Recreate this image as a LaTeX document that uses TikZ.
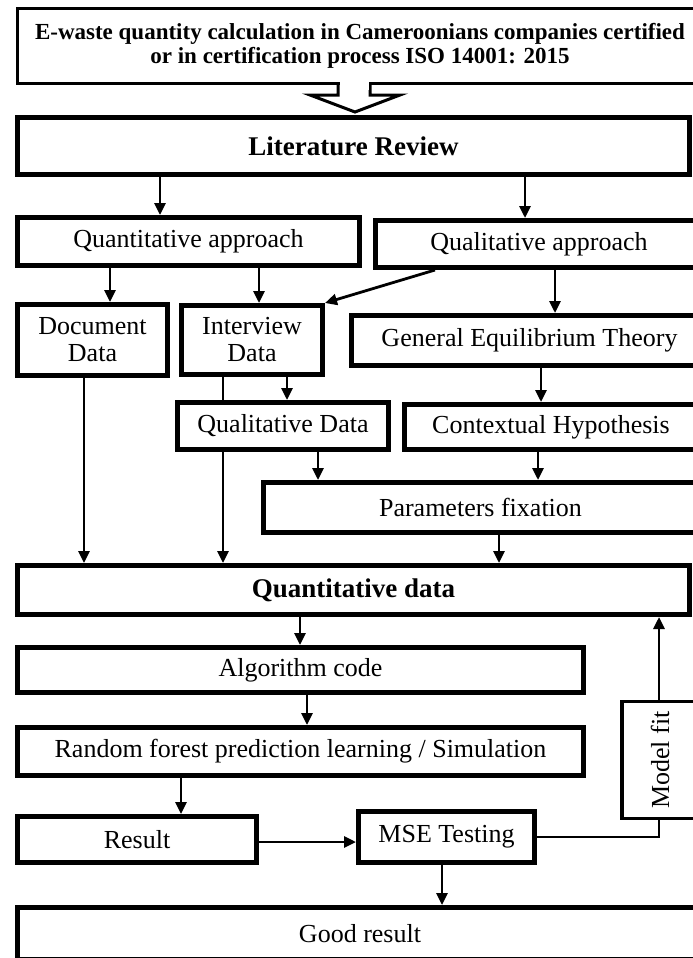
\documentclass[tikz,border=0pt]{standalone}
\usepackage{fontspec}
\setmainfont{Liberation Serif}
\usetikzlibrary{arrows.meta,calc}
\tikzset{
  box/.style={draw, line width=5pt, fill=white, inner sep=0pt, align=center,
    font=\fontsize{26}{27}\selectfont},
  arr/.style={line width=2.8pt, -{Triangle[width=11pt,length=12pt]}},
  ln/.style={line width=2.8pt},
}
\newcommand\mybox[7][]{\node[box,#1,minimum width={#5-#3-5},minimum height={#6-#4-5}] (#2) at ({(#3+#5)/2},{(#4+#6)/2}) {#7};}
\begin{document}
\begin{tikzpicture}[x=1pt,y=-1pt]
\useasboundingbox (0,0) rectangle (693,958);
\fill[white] (0,0) rectangle (693,958);
% x positions of connectors
\foreach \n/\v in {a/84,b/110,c/160,d/181,e/223,f/259,g/287,h/300,i/307,j/318,k/442,l/499,m/525,n/538,o/541,p/555,q/659}
  \coordinate (x\n) at (\v,0);
% boxes
\mybox[line width=3pt,font=\bfseries\fontsize{23}{24}\selectfont]{top}{15}{6}{705}{86}{E-waste quantity calculation in Cameroonians companies certified\\or in certification process ISO 14001: 2015}
\mybox[font=\bfseries\fontsize{27}{28}\selectfont]{lit}{15}{115}{692}{177}{Literature Review}
\mybox{quantA}{15}{215}{362}{268}{Quantitative approach}
\mybox{qualA}{373}{218}{705}{270}{Qualitative approach}
\mybox{doc}{15}{302}{170}{378}{Document\\Data}
\mybox{intv}{179}{303}{325}{377}{Interview\\Data}
\mybox{get}{349}{313}{710}{368}{General Equilibrium Theory}
\mybox{qdata}{175}{400}{391}{452}{Qualitative Data}
\mybox{ctx}{402}{402}{700}{452}{Contextual Hypothesis}
\mybox{par}{261}{480}{700}{535}{Parameters fixation}
\mybox[font=\bfseries\fontsize{27}{28}\selectfont]{qd}{15}{563}{692}{617}{Quantitative data}
\mybox{algo}{15}{645}{586}{695}{Algorithm code}
\mybox{rf}{15}{725}{586}{778}{Random forest prediction learning / Simulation}
\node[box,line width=3.5pt,rotate=90,minimum width=117pt,minimum height=76pt] (mfit) at (660,760) {Model fit};
\mybox{res}{15}{814}{259}{865}{Result}
\mybox{mse}{356}{809}{537}{865}{MSE Testing}
\mybox{good}{15}{905}{705}{962}{Good result}
% hollow arrow
\draw[line width=3pt,fill=white,line join=miter] (338,85) -- (338,95) -- (310,95) -- (355,112) -- (400,95) -- (370,95) -- (370,85);
\fill[white] (339.5,82) rectangle (368.5,90);
% connectors
\draw[arr] (lit.south -| xc) -- (quantA.north -| xc);
\draw[arr] (lit.south -| xm) -- (qualA.north -| xm);
\draw[arr] (quantA.south -| xb) -- (doc.north -| xb);
\draw[arr] (quantA.south -| xf) -- (intv.north -| xf);
\draw[arr] ($(qualA.south west)+(62,0)$) -- (intv.north east);
\draw[arr] (qualA.south -| xp) -- (get.north -| xp);
\draw[arr] (intv.south -| xg) -- (qdata.north -| xg);
\draw[ln] (intv.south -| xe) -- (qdata.north -| xe);
\draw[arr] (qdata.south -| xe) -- (qd.north -| xe);
\draw[arr] (doc.south -| xa) -- (qd.north -| xa);
\draw[arr] (get.south -| xo) -- (ctx.north -| xo);
\draw[arr] (qdata.south -| xj) -- (par.north -| xj);
\draw[arr] (ctx.south -| xn) -- (par.north -| xn);
\draw[arr] (par.south -| xl) -- (qd.north -| xl);
\draw[arr] (qd.south -| xh) -- (algo.north -| xh);
\draw[arr] (algo.south -| xi) -- (rf.north -| xi);
\draw[arr] (rf.south -| xd) -- (res.north -| xd);
\draw[arr] (res.east |- 0,842) -- (mse.west |- 0,842);
\draw[ln] (mse.east |- 0,837) -| (mfit.west -| xq);
\draw[arr] (mfit.east -| xq) -- (qd.south -| xq);
\draw[arr] (mse.south -| xk) -- (good.north -| xk);
\end{tikzpicture}
\end{document}
